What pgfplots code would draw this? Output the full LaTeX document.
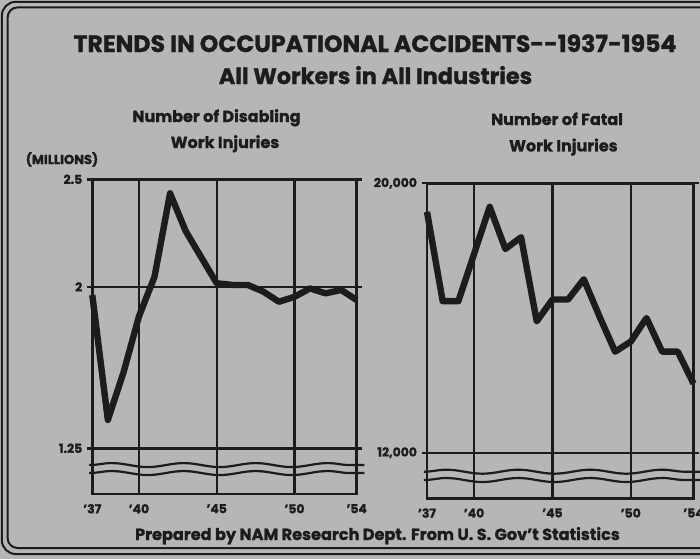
\documentclass[border=0pt]{standalone}
\usepackage{pgfplots}
\pgfplotsset{compat=1.18}
\usepackage{pgfplotstable}
\usepackage{fontspec}
\setmainfont{Poppins}[BoldFeatures={FakeBold=1.2}]
\usetikzlibrary{decorations.pathmorphing}
\definecolor{bg}{RGB}{182,182,180}
\definecolor{ink}{RGB}{28,28,28}

\pgfplotstableread{
year injuries
37 1.962
38 1.382
39 1.601
40 1.863
41 2.047
42 2.435
43 2.260
44 2.138
45 2.017
46 2.009
47 2.009
48 1.978
49 1.931
50 1.954
51 1.993
52 1.970
53 1.986
54 1.939
}\disabling

\pgfplotstableread{
year deaths
37 19150
38 16500
39 16500
40 17900
41 19300
42 18050
43 18400
44 15900
45 16550
46 16550
47 17150
48 16050
49 15000
50 15300
51 16000
52 15000
53 15000
54 14050
}\fatal

\pgfplotsset{
  panel/.style={
    anchor=south west, scale only axis, clip=false,
    xmin=37, xmax=54,
    xtick={37,40,45,50,54},
    xticklabels={'37,'40,'45,'50,'54},
    xmajorgrids, ymajorgrids,
    grid style={ink, line width=1.2pt},
    axis line style={ink, line width=1.3pt},
    tick style={ink, line width=1.2pt},
    major tick length=2.5pt, tick align=outside,
    xtick style={draw=none},
    scaled y ticks=false,
    ticklabel style={font=\bfseries\fontsize{6.2}{7}\selectfont, text=ink},
    xticklabel style={yshift=1pt},
    yticklabel style={xshift=1pt},
  },
}
\tikzset{
  wave/.style={ink, line width=1.1pt, decorate,
    decoration={snake, amplitude=1pt, segment length=36pt}},
}

\begin{document}
\begin{tikzpicture}[x=1pt,y=1pt]
\useasboundingbox (0,0) rectangle (350,279.5);
\clip (0,0) rectangle (350,279.5);
\fill[bg] (0,0) rectangle (350,279.5);
\draw[ink, line width=1pt, rounded corners=7pt] (0.9,2.5) rectangle (380,278.6);
\draw[ink, line width=1pt, rounded corners=5pt] (3.8,5.5) rectangle (377,275.8);

\node[font=\bfseries\fontsize{11.8}{13}\selectfont, text=ink, anchor=base] at (187.5,253.5) {TRENDS IN OCCUPATIONAL ACCIDENTS{-}{-}1937-1954};
\node[font=\bfseries\fontsize{11.2}{13}\selectfont, text=ink, anchor=base] at (187.75,237.5) {All Workers in All Industries};

\node[font=\bfseries\fontsize{8}{9}\selectfont, text=ink, anchor=base] at (108.25,218.5) {Number of Disabling};
\node[font=\bfseries\fontsize{8}{9}\selectfont, text=ink, anchor=base] at (112.5,205.5) {Work Injuries};
\node[font=\bfseries\fontsize{8}{9}\selectfont, text=ink, anchor=base] at (278.5,217) {Number of Fatal};
\node[font=\bfseries\fontsize{8}{9}\selectfont, text=ink, anchor=base] at (281.7,203.8) {Work Injuries};
\node[font=\bfseries\fontsize{6.5}{7}\selectfont, text=ink, anchor=base] at (31,197.5) {(MILLIONS)};

\begin{axis}[panel, at={(46.15pt,32.5pt)}, width=132.2pt, height=157.35pt,
  ymin=1.0376, ymax=2.5,
  ytick={1.25,2,2.5}, yticklabels={1.25,2,2.5}]
  \addplot[ink, line width=3.2pt, line join=round] table[x=year, y=injuries] {\disabling};
  \draw[wave] (axis cs:36.8,1.172) -- (axis cs:54.5,1.172);
  \draw[wave] (axis cs:36.8,1.135) -- (axis cs:54.5,1.135);
\end{axis}

\begin{axis}[panel, at={(213.5pt,30.35pt)}, width=133.25pt, height=157.5pt,
  ymin=10646, ymax=20000,
  ytick={12000,20000}, yticklabels={{12,000},{20,000}}]
  \addplot[ink, line width=3.2pt, line join=round] table[x=year, y=deaths] {\fatal};
  \draw[wave] (axis cs:36.8,11436) -- (axis cs:55,11436);
  \draw[wave] (axis cs:36.8,11189) -- (axis cs:55,11189);
\end{axis}

\node[font=\bfseries\fontsize{8.05}{9}\selectfont, text=ink, anchor=base] at (188.75,9.5) {Prepared by NAM Research Dept. From U. S. Gov't Statistics};
\end{tikzpicture}
\end{document}
